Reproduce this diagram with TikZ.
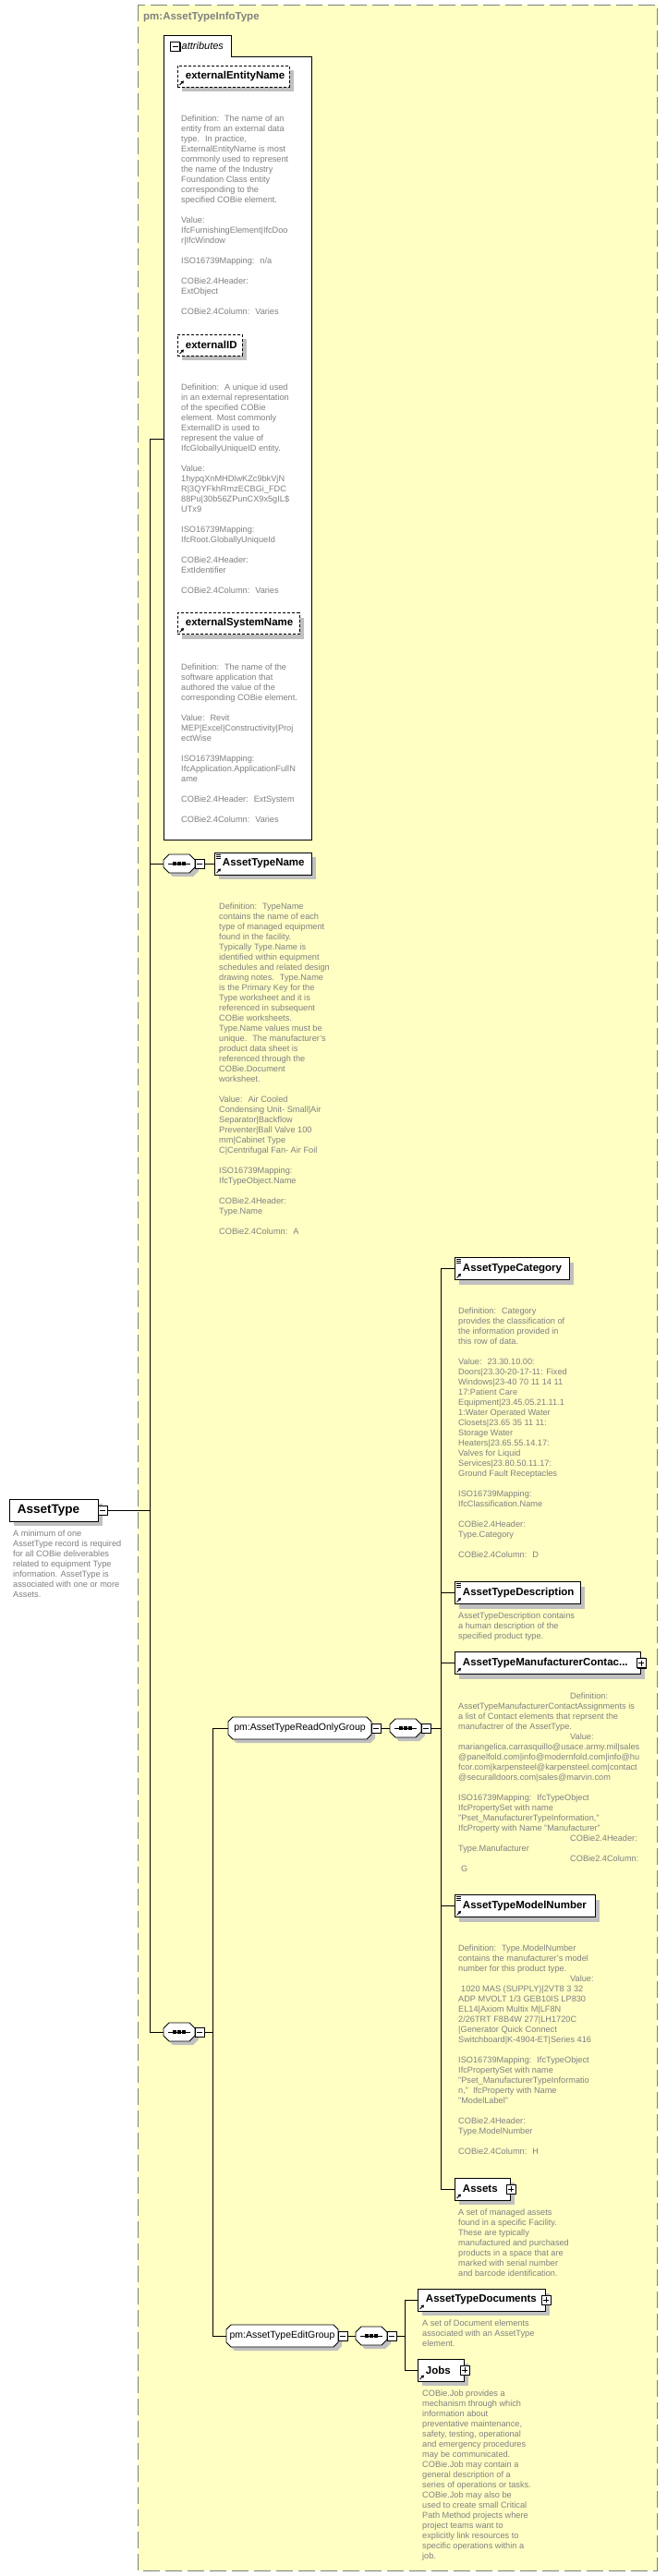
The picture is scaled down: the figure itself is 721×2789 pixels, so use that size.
\documentclass[tikz,border=0pt]{standalone}
\usepackage{fontspec}
\setmainfont{Liberation Sans}
\usetikzlibrary{shadows,arrows.meta}
\definecolor{bgyellow}{RGB}{255,255,196}
\definecolor{descgray}{RGB}{128,128,128}
\definecolor{shadowgray}{RGB}{192,192,192}
\definecolor{bordergray}{RGB}{128,128,128}
\newcommand\descfont{\fontsize{9.2pt}{11pt}\selectfont}
\newcommand\elemfont{\fontsize{11.5pt}{13pt}\selectfont\bfseries}
\newcommand\grpfont{\fontsize{10.5pt}{12pt}\selectfont}
\pgfdeclarelayer{bg}
\pgfsetlayers{bg,main}
% octagon: x1,y1,x2,y2,chamfer
\newcommand\xocto[5]{%
 \fill[shadowgray] ({#1+#5+4},{#2+4}) -- ({#3-#5+4},{#2+4}) -- ({#3+4},{#2+#5+4}) -- ({#3+4},{#4-#5+4}) -- ({#3-#5+4},{#4+4}) -- ({#1+#5+4},{#4+4}) -- ({#1+4},{#4-#5+4}) -- ({#1+4},{#2+#5+4}) -- cycle;
 \draw[fill=white,line width=0.9pt] ({#1+#5},{#2}) -- ({#3-#5},{#2}) -- ({#3},{#2+#5}) -- ({#3},{#4-#5}) -- ({#3-#5},{#4}) -- ({#1+#5},{#4}) -- ({#1},{#4-#5}) -- ({#1},{#2+#5}) -- cycle;}
% sequence: name, cx, cy
\newcommand\xseq[3]{%
 \xocto{#2-17}{#3-10}{#2+17}{#3+10}{6}
 \node[seqn] (#1) at (#2,#3) {};
 \draw[line width=0.9pt] ({#2-12},#3) -- ({#2+12},#3);
 \foreach \dx in {-5,0,5} {\fill ({#2+\dx-1.6},{#3-1.6}) rectangle ({#2+\dx+1.6},{#3+1.6});}
 \node[minusbox] (#1m) at ({#2+22},#3) {};}
% group: name, x1, x2, cx, width, cy, label
\newcommand\xgrp[7]{%
 \xocto{#2}{#6-12}{#3}{#6+12}{5}
 \node[grpn, minimum width=#5pt] (#1) at (#4,#6) {#7};
 \node[minusbox] (#1m) at ({#3+5},#6) {};}
% element: [opts] name, x, cy, width, label
\newcommand\xelem[6][]{\node[elembox,text width=#5pt,#1] (#2) at (#3,#4) {\hspace*{8.5pt}#6};}
\newcommand\eqicon[1]{\draw[line width=0.6pt] ([xshift=2pt,yshift=-2.5pt]#1.north west) -- ++(5pt,0pt) ([xshift=2pt,yshift=-4.5pt]#1.north west) -- ++(5pt,0pt) ([xshift=2pt,yshift=-6.5pt]#1.north west) -- ++(5pt,0pt);}
\newcommand\refarrow[1]{\draw[line width=1pt,-{Triangle[length=3pt,width=3.5pt]}] ([xshift=2.5pt,yshift=2.5pt]#1.south west) -- ++(4.5pt,4.5pt);}
\begin{document}
\begin{tikzpicture}[x=1pt,y=-1pt,
  conn/.style={line width=0.9pt, draw=black},
  elembox/.style={draw=black, fill=white, line width=0.9pt, minimum height=24pt, inner sep=0pt, anchor=west, align=left, font=\elemfont, text=black, drop shadow={shadow xshift=5pt, shadow yshift=-5pt, fill=shadowgray, opacity=1}},
  attrbox/.style={dash pattern=on 3pt off 2pt, minimum height=23pt},
  pmbase/.style={draw=black, fill=white, line width=0.8pt, minimum size=10pt, inner sep=0pt, drop shadow={shadow xshift=1.3pt, shadow yshift=-1.3pt, fill=black, opacity=1}},
  minusbox/.style={pmbase, path picture={\draw[line width=0.8pt] ([xshift=2pt]path picture bounding box.west) -- ([xshift=-2pt]path picture bounding box.east);}},
  plusbox/.style={pmbase, path picture={\draw[line width=0.8pt] ([xshift=2pt]path picture bounding box.west) -- ([xshift=-2pt]path picture bounding box.east) ([yshift=-2pt]path picture bounding box.north) -- ([yshift=2pt]path picture bounding box.south);}},
  desc/.style={anchor=north west, inner sep=0pt, align=left, font=\descfont, text=descgray},
  seqn/.style={minimum width=34pt, minimum height=20pt, inner sep=0pt},
  grpn/.style={inner sep=0pt, minimum height=24pt, font=\grpfont, text=black},
]
\useasboundingbox (0,0) rectangle (721,2789);
\begin{pgfonlayer}{bg}
\fill[white] (0,0) rectangle (721,2789);
\draw[bordergray, line width=1pt, dash pattern=on 18pt off 6pt, fill=bgyellow] (149,5) rectangle (711,2783);
\end{pgfonlayer}
\node[anchor=west, inner sep=0pt, font=\fontsize{11.5pt}{13pt}\selectfont\bfseries, text=descgray] (title) at (155,19) {pm:AssetTypeInfoType};

% attributes box
\draw[fill=white, line width=0.9pt] (177,38) -- (250,38) -- (250,61) -- (337,61) -- (337,909) -- (177,909) -- cycle;
\node[anchor=north west, inner sep=0pt, minimum width=160pt, minimum height=871pt] (attrs) at (177,38) {};
\node[minusbox] (attrsm) at (189.5,50) {};
\node[anchor=west, inner sep=0pt, font=\fontsize{11pt}{13pt}\selectfont\itshape] (attrlbl) at (196.5,50) {attributes};

\xelem[attrbox]{een}{192}{82.5}{121}{externalEntityName}
\refarrow{een}
\node[desc] (deen) at (196,124.5) {Definition:~ The name of an\\
entity from an external data\\
type.~ In practice,\\
ExternalEntityName is most\\
commonly used to represent\\
the name of the Industry\\
Foundation Class entity\\
corresponding to the\\
specified COBie element.\\[11pt]
Value:\\
IfcFurnishingElement|IfcDoo\\
r|IfcWindow\\[11pt]
ISO16739Mapping:~ n/a\\[11pt]
COBie2.4Header:\\
ExtObject\\[11pt]
COBie2.4Column:~ Varies};

\xelem[attrbox]{eid}{192}{373.5}{70}{externalID}
\refarrow{eid}
\node[desc] (deid) at (196,415.5) {Definition:~ A unique id used\\
in an external representation\\
of the specified COBie\\
element. Most commonly\\
ExternalID is used to\\
represent the value of\\
IfcGloballyUniqueID entity.\\[11pt]
Value:\\
1hypqXnMHDlwKZc9bkVjN\\
R|3QYFkhRmzECBGi\_FDC\\
88Pu|30b56ZPunCX9x5gIL\$\\
UTx9\\[11pt]
ISO16739Mapping:\\
IfcRoot.GloballyUniqueId\\[11pt]
COBie2.4Header:\\
ExtIdentifier\\[11pt]
COBie2.4Column:~ Varies};

\xelem[attrbox]{esn}{192}{675}{132}{externalSystemName}
\refarrow{esn}
\node[desc] (desn) at (196,718.5) {Definition:~ The name of the\\
software application that\\
authored the value of the\\
corresponding COBie element.\\[11pt]
Value:~ Revit\\
MEP|Excel|Constructivity|Proj\\
ectWise\\[11pt]
ISO16739Mapping:\\
IfcApplication.ApplicationFullN\\
ame\\[11pt]
COBie2.4Header:~ ExtSystem\\[11pt]
COBie2.4Column:~ Varies};

% first sequence and AssetTypeName
\xseq{seqa}{194}{935}
\xelem{atn}{232}{935}{105}{AssetTypeName}
\eqicon{atn}\refarrow{atn}
\node[desc] (datn) at (237,977.5) {Definition:~ TypeName\\
contains the name of each\\
type of managed equipment\\
found in the facility.\\
Typically Type.Name is\\
identified within equipment\\
schedules and related design\\
drawing notes.~ Type.Name\\
is the Primary Key for the\\
Type worksheet and it is\\
referenced in subsequent\\
COBie worksheets.\\
Type.Name values must be\\
unique.~ The manufacturer's\\
product data sheet is\\
referenced through the\\
COBie.Document\\
worksheet.\\[11pt]
Value:~ Air Cooled\\
Condensing Unit- Small|Air\\
Separator|Backflow\\
Preventer|Ball Valve 100\\
mm|Cabinet Type\\
C|Centrifugal Fan- Air Foil\\[11pt]
ISO16739Mapping:\\
IfcTypeObject.Name\\[11pt]
COBie2.4Header:\\
Type.Name\\[11pt]
COBie2.4Column:~ A};

% root element
\xelem[font=\fontsize{13.5pt}{15pt}\selectfont\bfseries]{at}{10}{1635}{96}{AssetType}
\node[minusbox] (atm) at (111,1635) {};
\node[desc] (dat) at (14,1656.5) {A minimum of one\\
AssetType record is required\\
for all COBie deliverables\\
related to equipment Type\\
information. AssetType is\\
associated with one or more\\
Assets.};

% second sequence and groups
\xseq{seqb}{194}{2200}
\xgrp{rog}{247}{402}{324.5}{155}{1871}{pm:AssetTypeReadOnlyGroup}
\xseq{seqc}{439}{1871}
\xgrp{eg}{245}{366}{305.5}{121}{2529}{pm:AssetTypeEditGroup}
\xseq{seqd}{402}{2529}

% read-only group children
\xelem{cat}{492}{1373.5}{124}{AssetTypeCategory}
\eqicon{cat}\refarrow{cat}
\node[desc] (dcat) at (496,1415.5) {Definition:~ Category\\
provides the classification of\\
the information provided in\\
this row of data.\\[11pt]
Value:~ 23.30.10.00:\\
Doors|23.30-20-17-11: Fixed\\
Windows|23-40 70 11 14 11\\
17:Patient Care\\
Equipment|23.45.05.21.11.1\\
1:Water Operated Water\\
Closets|23.65 35 11 11:\\
Storage Water\\
Heaters|23.65.55.14.17:\\
Valves for Liquid\\
Services|23.80.50.11.17:\\
Ground Fault Receptacles\\[11pt]
ISO16739Mapping:\\
IfcClassification.Name\\[11pt]
COBie2.4Header:\\
Type.Category\\[11pt]
COBie2.4Column:~ D};

\xelem{dsc}{492}{1724.5}{136}{AssetTypeDescription}
\eqicon{dsc}\refarrow{dsc}
\node[desc] (ddsc) at (496,1745.5) {AssetTypeDescription contains\\
a human description of the\\
specified product type.};

\xelem{man}{492}{1800.5}{201}{AssetTypeManufacturerContac...}
\refarrow{man}
\node[plusbox] (manp) at (man.east) {};
\node[desc] (dman) at (496,1832.5) {\hspace*{121pt}Definition:\\
AssetTypeManufacturerContactAssignments is\\
a list of Contact elements that reprsent the\\
manufactrer of the AssetType.\\
\hspace*{121pt}Value:\\
mariangelica.carrasquillo@usace.army.mil|sales\\
@panelfold.com|info@modernfold.com|info@hu\\
fcor.com|karpensteel@karpensteel.com|contact\\
@securalldoors.com|sales@marvin.com\\[11pt]
ISO16739Mapping:~ IfcTypeObject\\
IfcPropertySet with name\\
"Pset\_ManufacturerTypeInformation,"\\
IfcProperty with Name "Manufacturer"\\
\hspace*{121pt}COBie2.4Header:\\
Type.Manufacturer\\
\hspace*{121pt}COBie2.4Column:\\
\hspace*{3pt}G};

\xelem{mod}{492}{2063.5}{152}{AssetTypeModelNumber}
\eqicon{mod}\refarrow{mod}
\node[desc] (dmod) at (496,2105.5) {Definition:~ Type.ModelNumber\\
contains the manufacturer's model\\
number for this product type.\\
\hspace*{121pt}Value:\\
\hspace*{3pt}1020 MAS (SUPPLY)|2VT8 3 32\\
ADP MVOLT 1/3 GEB10IS LP830\\
EL14|Axiom Multix M|LF8N\\
2/26TRT F8B4W 277|LH1720C\\
|Generator Quick Connect\\
Switchboard|K-4904-ET|Series 416\\[11pt]
ISO16739Mapping:~ IfcTypeObject\\
IfcPropertySet with name\\
"Pset\_ManufacturerTypeInformatio\\
n,"~ IfcProperty with Name\\
"ModelLabel"\\[11pt]
COBie2.4Header:\\
Type.ModelNumber\\[11pt]
COBie2.4Column:~ H};

\xelem{assets}{492}{2370}{60}{Assets}
\refarrow{assets}
\node[plusbox] (assetsp) at (assets.east) {};
\node[desc] (dassets) at (496,2391.5) {A set of managed assets\\
found in a specific Facility.\\
These are typically\\
manufactured and purchased\\
products in a space that are\\
marked with serial number\\
and barcode identification.};

% edit group children
\xelem{docs}{452}{2490}{138}{AssetTypeDocuments}
\refarrow{docs}
\node[plusbox] (docsp) at (docs.east) {};
\node[desc] (ddocs) at (457,2511.5) {A set of Document elements\\
associated with an AssetType\\
element.};

\xelem{jobs}{452}{2566}{50}{Jobs}
\refarrow{jobs}
\node[plusbox] (jobsp) at (jobs.east) {};
\node[desc] (djobs) at (457,2587.5) {COBie.Job provides a\\
mechanism through which\\
information about\\
preventative maintenance,\\
safety, testing, operational\\
and emergency procedures\\
may be communicated.\\
COBie.Job may contain a\\
general description of a\\
series of operations or tasks.\\
COBie.Job may also be\\
used to create small Critical\\
Path Method projects where\\
project teams want to\\
explicitly link resources to\\
specific operations within a\\
job.};

% connectors
\coordinate (v1a) at (162,475);
\coordinate (v1b) at (162,2200);
\coordinate (v2a) at (230,1871);
\coordinate (v2b) at (230,2529);
\coordinate (v3a) at (477,1373.5);
\coordinate (v3b) at (477,2370);
\coordinate (v4a) at (438,2490);
\coordinate (v4b) at (438,2566);
\begin{pgfonlayer}{bg}
\draw[conn] (v1a) -- (v1b);
\draw[conn] (v1a) -- (v1a -| attrs.west);
\draw[conn] (v1a |- seqa) -- (seqa.west);
\draw[conn] (seqam.east) -- (atn.west);
\draw[conn] (atm.east) -- (v1a |- at);
\draw[conn] (v1b) -- (seqb.west);
\draw[conn] (seqbm.east) -- (v2a |- seqb);
\draw[conn] (v2a) -- (v2b);
\draw[conn] (v2a) -- (rog.west);
\draw[conn] (v2b) -- (eg.west);
\draw[conn] (rogm.east) -- (seqc.west);
\draw[conn] (seqcm.east) -- (v3a |- seqc);
\draw[conn] (v3a) -- (v3b);
\draw[conn] (v3a) -- (cat.west);
\draw[conn] (v3a |- dsc) -- (dsc.west);
\draw[conn] (v3a |- man) -- (man.west);
\draw[conn] (v3a |- mod) -- (mod.west);
\draw[conn] (v3b) -- (assets.west);
\draw[conn] (egm.east) -- (seqd.west);
\draw[conn] (seqdm.east) -- (v4a |- seqd);
\draw[conn] (v4a) -- (v4b);
\draw[conn] (v4a) -- (docs.west);
\draw[conn] (v4b) -- (jobs.west);
\end{pgfonlayer}
\end{tikzpicture}
\end{document}
